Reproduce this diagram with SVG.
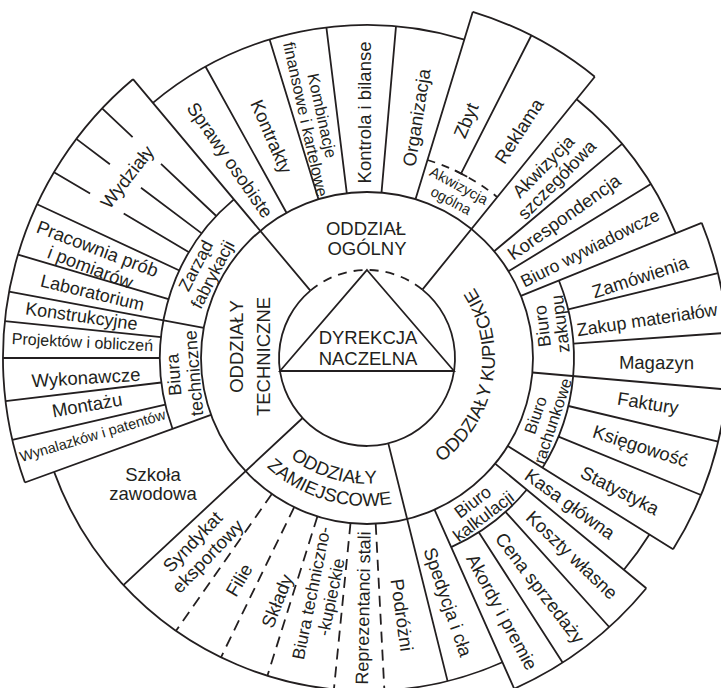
<svg xmlns="http://www.w3.org/2000/svg" xmlns:xlink="http://www.w3.org/1999/xlink" width="721" height="688" viewBox="0 0 721 688">
<style>
.ln{fill:none;stroke:#231f20;stroke-width:1.8;stroke-linecap:butt}
.ds{fill:none;stroke:#231f20;stroke-width:1.8;stroke-dasharray:11 7}
.di{fill:none;stroke:#231f20;stroke-width:1.8;stroke-dasharray:9 7}
.t{font-family:"Liberation Sans",Arial,sans-serif;font-size:18.5px;fill:#231f20;text-anchor:middle}
.f18{font-size:18px}.f175{font-size:17.5px}.f165{font-size:16.5px}.f16{font-size:16px}.f145{font-size:14.5px}
</style>
<defs>
<path id="pk" d="M388.1,484.2 A128,128 0 0 0 432,247.7"/>
<path id="pz1" d="M244.8,387.3 A125.5,125.5 0 0 0 453.4,449.1"/>
<path id="pz2" d="M223.1,392.6 A148,148 0 0 0 468.9,465.4"/>
</defs>
<rect width="721" height="688" fill="#fff"/>
<g id="connectors">
<circle class="ln" cx="367" cy="358" r="166"/>
<path class="ln" d="M422.4,289.6 A88,88 0 1 1 310.4,290.6"/>
<path class="di" d="M310.4,290.6 A88,88 0 0 1 422.4,289.6"/>
<path class="ln" d="M367,270 L454,371 L280,371 Z"/>
<path class="ln" d="M502.4,662.2 A333,333 0 0 1 54.1,471.9"/>
<path class="ln" d="M152.9,102.9 A333,333 0 0 1 464.4,39.6"/>
<path class="ln" d="M576.6,99.2 A333,333 0 0 1 675.8,233.3"/>
<path class="ln" d="M649.4,534.5 A333,333 0 0 1 623.9,569.8"/>
<path class="ln" d="M24.9,482.5 A364,364 0 0 1 133,79.2"/>
<path class="ln" d="M472.8,11.8 A362,362 0 0 1 594.8,76.7"/>
<path class="ln" d="M701.7,222.8 A361,361 0 0 1 673.1,549.3"/>
<path class="ln" d="M646.3,588.3 A362,362 0 0 1 514.2,688.7"/>
<path class="ln" d="M172.5,428.8 A207,207 0 0 1 233.9,199.4"/>
<path class="ln" d="M558.9,280.5 A207,207 0 0 1 542.5,467.7"/>
<path class="ln" d="M526.7,489.7 A207,207 0 0 1 451.2,547.1"/>
<path class="di" d="M427.5,160 A207,207 0 0 1 497.3,197.1" style="stroke-dasharray:8 7"/>
<path class="ln" d="M310.4,290.6 L133,79.2 M286.5,212.8 L205.6,66.8 M318.5,199.3 L269.6,39.6 M346.8,193.2 L326.4,27.5 M381.5,192.6 L396,26.3 M415.5,199.3 L472.8,11.8 M461,173.6 L531.3,35.5 M454.8,170.4 L467.2,176.8 M422.4,289.6 L594.8,76.7"/>
<path class="ln" d="M494.2,251.3 L622.1,143.9 M508.5,271.3 L650.9,184 M520.9,295.8 L701.7,222.8 M568.2,309.3 L717.9,273.1 M573.5,343.6 L727.1,332.8 M532.4,372.5 L726.6,389.5 M568.4,406 L718.2,441.6 M558.5,436.6 L701,495 M507.8,446 L673.1,549.3"/>
<path class="ln" d="M495.1,463.6 L646.3,588.3 M505.5,511.8 L609.2,627 M478.8,532.2 L562.6,662.6 M434.5,509.6 L514.2,688.7 M388.3,443.4 L447.6,681.1 M302.6,418 L123.4,585.1"/>
<path class="ln" d="M211,414.8 L24.9,482.5 M165.3,404.6 L12.3,439.9 M161.4,382.5 L5.5,401.1 M160,358 L3,358 M161.1,337.1 L4.9,321.2 M203.8,327.8 L9.1,291.7 M168.5,299.2 L18,254.6 M179.4,270.5 L37.1,204.2"/>
<path class="ln" d="M189,252.3 L123.7,213.5 M90.1,193.6 L54,172.2 M201.7,233.4 L141,187.7 M109.9,164.2 L76.3,138.9 M216.3,216 L161,163.9 M132.6,137.2 L102.1,108.4"/>
<path class="ds" d="M375.7,523.8 L384.4,690.5 M350.5,523.2 L333.9,689.4 M317.4,516.4 L267.4,675.8 M294.2,507.2 L221,657.3 M271.8,494 L176,630.8"/>
</g>
<g id="dyrekcja">
<text class="t" x="368" y="344">DYREKCJA</text>
<text class="t" x="368" y="365">NACZELNA</text>
</g>
<g id="oddzial-ogolny">
<text class="t" x="366" y="235">ODDZIAŁ</text>
<text class="t" x="367" y="255">OGÓLNY</text>
<text class="t" transform="translate(230,160) rotate(55.3)" y="6.5">Sprawy osobiste</text>
<text class="t" transform="translate(271.5,136.5) rotate(66.7)" y="6.5">Kontrakty</text>
<text class="t f165" transform="translate(314,117.5) rotate(77.6)"><tspan x="0" y="-2.7">Kombinacje</tspan><tspan x="0" y="14.3">finansowe i kartelowe</tspan></text>
<text class="t" transform="translate(364,112.5) rotate(-90)" y="6.5">Kontrola i bilanse</text>
<text class="t" transform="translate(416.5,117.5) rotate(-81)" y="6.5">Organizacja</text>
<text class="t" transform="translate(466,120.5) rotate(-67.5)" y="6.5">Zbyt</text>
<text class="t" transform="translate(519,131) rotate(-57)" y="6.5">Reklama</text>
<text class="t f145" transform="translate(455,193) rotate(28)"><tspan x="0" y="-3.4">Akwizycja</tspan><tspan x="0" y="13.6">ogólna</tspan></text>
</g>
<g id="oddzialy-kupieckie">
<text class="t"><textPath xlink:href="#pk" href="#pk" startOffset="50%">ODDZIAŁY KUPIECKIE</textPath></text>
<text class="t f18" transform="translate(550,173) rotate(-45.5)"><tspan x="0" y="-3.2">Akwizycja</tspan><tspan x="0" y="15.8">szczegółowa</tspan></text>
<text class="t" transform="translate(564,217) rotate(-35.5)" y="6.5">Korespondencja</text>
<text class="t f175" transform="translate(590,248) rotate(-26.75)" y="6.1">Biuro wywiadowcze</text>
<text class="t f18" transform="translate(551,325) rotate(-97)"><tspan x="0" y="-2.7">Biuro</tspan><tspan x="0" y="15.3">zakupu</tspan></text>
<text class="t" transform="translate(640,277) rotate(-17.8)" y="6.5">Zamówienia</text>
<text class="t f18" transform="translate(647,319.5) rotate(-8.5)" y="6.3">Zakup materiałów</text>
<text class="t" transform="translate(656.5,362.5) rotate(0.5)" y="6.5">Magazyn</text>
<text class="t f165" transform="translate(544,418) rotate(-71.5)"><tspan x="0" y="-3.2">Biuro</tspan><tspan x="0" y="14.8">rachunkowe</tspan></text>
<text class="t" transform="translate(648,403) rotate(9.2)" y="6.5">Faktury</text>
<text class="t" transform="translate(640.5,446) rotate(17.85)" y="6.5">Księgowość</text>
<text class="t" transform="translate(620,490.5) rotate(27.15)" y="6.5">Statystyka</text>
<text class="t" transform="translate(570,504) rotate(35.75)" y="6.5">Kasa główna</text>
<text class="t f175" transform="translate(478,509) rotate(-37)"><tspan x="0" y="-2.9">Biuro</tspan><tspan x="0" y="15.1">kalkulacji</tspan></text>
<text class="t" transform="translate(572,555) rotate(43.75)" y="6.5">Koszty własne</text>
<text class="t" transform="translate(540,588) rotate(52.65)" y="6.5">Cena sprzedaży</text>
<text class="t" transform="translate(502,612) rotate(61.65)" y="6.5">Akordy i premie</text>
<text class="t" transform="translate(448,602) rotate(71)" y="6.5">Spedycja i cła</text>
</g>
<g id="oddzialy-zamiejscowe">
<text class="t"><textPath xlink:href="#pz1" href="#pz1" startOffset="50%">ODDZIAŁY</textPath></text>
<text class="t"><textPath xlink:href="#pz2" href="#pz2" startOffset="50%">ZAMIEJSCOWE</textPath></text>
<text class="t" transform="translate(402,615) rotate(82)" y="6.5">Podróżni</text>
<text class="t f18" transform="translate(363,608) rotate(-89)" y="6.3">Reprezentanci stali</text>
<text class="t f175" transform="translate(321,595) rotate(-78.5)"><tspan x="0" y="-3.9">Biura techniczno-</tspan><tspan x="0" y="16.1">-kupieckie</tspan></text>
<text class="t" transform="translate(277,601) rotate(-68)" y="6.5">Składy</text>
<text class="t" transform="translate(239,580) rotate(-59.5)" y="6.5">Filie</text>
<text class="t" transform="translate(200,549) rotate(-46)"><tspan x="0" y="-4">Syndykat</tspan><tspan x="0" y="17">eksportowy</tspan></text>
</g>
<g id="oddzialy-techniczne">
<text class="t" transform="translate(243,346.5) rotate(-90)">ODDZIAŁY</text>
<text class="t" transform="translate(270,356.5) rotate(-90)">TECHNICZNE</text>
<text class="t" x="153" y="480.5">Szkoła</text>
<text class="t" x="153" y="499.5">zawodowa</text>
<text class="t f145" transform="translate(92.5,435.5) rotate(-16.5)" y="5.1">Wynalazków i patentów</text>
<text class="t" transform="translate(87,405) rotate(-9.9)" y="6.5">Montażu</text>
<text class="t" transform="translate(86,377.5) rotate(-3.4)" y="6.5">Wykonawcze</text>
<text class="t f16" transform="translate(82.5,342) rotate(2.9)" y="5.6">Projektów i obliczeń</text>
<text class="t f18" transform="translate(81.5,316) rotate(8.15)" y="6.3">Konstrukcyjne</text>
<text class="t f18" transform="translate(92.5,292.5) rotate(13.5)" y="6.3">Laboratorium</text>
<text class="t" transform="translate(94,258) rotate(20.75)"><tspan x="0" y="-3.5">Pracownia prób</tspan><tspan x="0" y="16.5">i pomiarów</tspan></text>
<text class="t f175" transform="translate(204,270) rotate(-62.4)"><tspan x="0" y="-3.4">Zarząd</tspan><tspan x="0" y="15.6">fabrykacji</tspan></text>
<text class="t f18" transform="translate(183.5,374) rotate(-94.75)"><tspan x="0" y="-3.7">Biura</tspan><tspan x="0" y="16.3">techniczne</tspan></text>
<text class="t" transform="translate(127,177) rotate(-52)" y="6.5">Wydziały</text>
</g>
</svg>
